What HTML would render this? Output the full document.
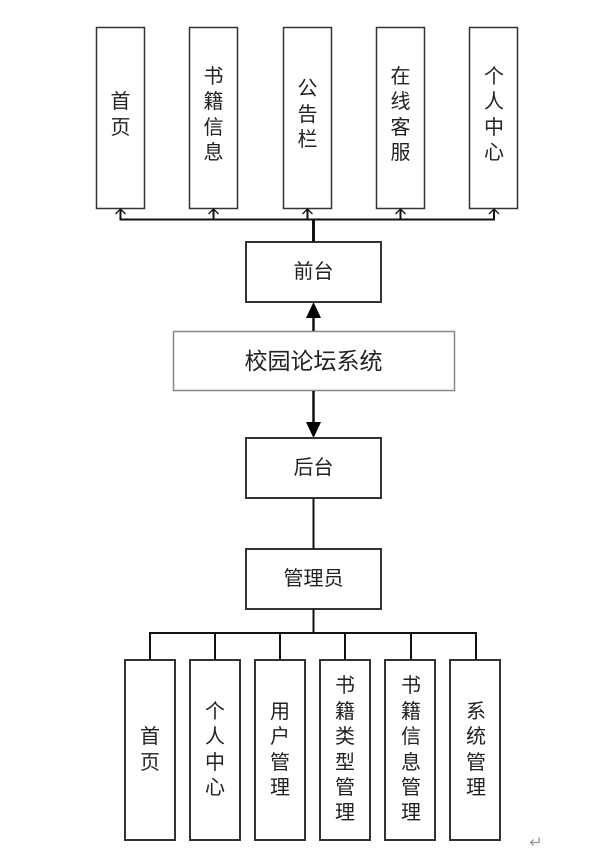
<!DOCTYPE html>
<html><head><meta charset="utf-8"><style>
html,body{margin:0;padding:0;background:#fff;}
svg{display:block;}
text{font-family:"Liberation Sans","Noto Sans CJK SC","WenQuanYi Zen Hei",sans-serif;fill:#222;text-anchor:middle;dominant-baseline:central;}
</style></head><body>
<svg width="605" height="851" viewBox="0 0 605 851" xmlns="http://www.w3.org/2000/svg">
<g fill="#fff" stroke="#333" stroke-width="1.5">
<rect x="96.5" y="27.5" width="48" height="181"/>
<rect x="189.5" y="27.5" width="48" height="181"/>
<rect x="283.5" y="27.5" width="48" height="181"/>
<rect x="376.5" y="27.5" width="48" height="181"/>
<rect x="469.5" y="27.5" width="48" height="181"/>
<rect x="246" y="242" width="135" height="60" stroke-width="2"/>
<rect x="173.5" y="331.5" width="281" height="59" stroke="#888"/>
<rect x="246" y="438" width="135" height="60" stroke-width="2"/>
<rect x="246" y="549" width="135" height="60" stroke-width="2"/>
<rect x="125" y="660" width="50" height="180" stroke-width="2"/>
<rect x="190" y="660" width="50" height="180" stroke-width="2"/>
<rect x="255" y="660" width="50" height="180" stroke-width="2"/>
<rect x="320" y="660" width="50" height="180" stroke-width="2"/>
<rect x="385" y="660" width="50" height="180" stroke-width="2"/>
<rect x="450" y="660" width="50" height="180" stroke-width="2"/>
</g>
<g fill="none" stroke="#111" stroke-width="2">
<polyline points="120.5,209 120.5,219.5 494,219.5 494,209"/>
<line x1="213.5" y1="209" x2="213.5" y2="219"/>
<line x1="307.5" y1="209" x2="307.5" y2="219"/>
<line x1="400.5" y1="209" x2="400.5" y2="219"/>
<line x1="313.5" y1="219" x2="313.5" y2="242" stroke-width="3"/>
<line x1="313.5" y1="316" x2="313.5" y2="331" stroke-width="2.5"/>
<line x1="313.5" y1="391" x2="313.5" y2="424" stroke-width="2.5"/>
<line x1="313.5" y1="498" x2="313.5" y2="549"/>
<line x1="313.5" y1="609" x2="313.5" y2="633"/>
<polyline points="150,660 150,633 476,633 476,660"/>
<line x1="215" y1="633" x2="215" y2="660"/>
<line x1="280" y1="633" x2="280" y2="660"/>
<line x1="345" y1="633" x2="345" y2="660"/>
<line x1="411" y1="633" x2="411" y2="660"/>
</g>
<g fill="none" stroke="#111" stroke-width="1.3">
<polyline points="115.5,214 120.5,209 125.5,214"/>
<polyline points="208.5,214 213.5,209 218.5,214"/>
<polyline points="302.5,214 307.5,209 312.5,214"/>
<polyline points="395.5,214 400.5,209 405.5,214"/>
<polyline points="489,214 494,209 499,214"/>
</g>
<polygon points="313.5,302 306,318 321,318" fill="#000"/>
<polygon points="313.5,438 306,422 321,422" fill="#000"/>
<g font-size="20">
<text x="120.5" y="102">首</text><text x="120.5" y="128">页</text>
<text x="213.5" y="77">书</text><text x="213.5" y="102">籍</text><text x="213.5" y="128">信</text><text x="213.5" y="153">息</text>
<text x="307.5" y="89">公</text><text x="307.5" y="115">告</text><text x="307.5" y="140">栏</text>
<text x="400.5" y="77">在</text><text x="400.5" y="102">线</text><text x="400.5" y="128">客</text><text x="400.5" y="153">服</text>
<text x="494" y="77">个</text><text x="494" y="102">人</text><text x="494" y="128">中</text><text x="494" y="153">心</text>
<text x="313.5" y="272">前台</text>
<text x="313.5" y="468">后台</text>
<text x="313.5" y="579">管理员</text>
<text x="150" y="737">首</text><text x="150" y="763">页</text>
<text x="215" y="712">个</text><text x="215" y="737">人</text><text x="215" y="763">中</text><text x="215" y="788">心</text>
<text x="280" y="712">用</text><text x="280" y="737">户</text><text x="280" y="763">管</text><text x="280" y="788">理</text>
<text x="345" y="686">书</text><text x="345" y="712">籍</text><text x="345" y="737">类</text><text x="345" y="763">型</text><text x="345" y="788">管</text><text x="345" y="813">理</text>
<text x="411" y="686">书</text><text x="411" y="712">籍</text><text x="411" y="737">信</text><text x="411" y="763">息</text><text x="411" y="788">管</text><text x="411" y="813">理</text>
<text x="476" y="712">系</text><text x="476" y="737">统</text><text x="476" y="763">管</text><text x="476" y="788">理</text>
</g>
<text x="313.5" y="361" font-size="23">校园论坛系统</text>
<text x="536" y="843" font-size="16" fill="#999" style="fill:#999">↵</text>
</svg>
</body></html>
